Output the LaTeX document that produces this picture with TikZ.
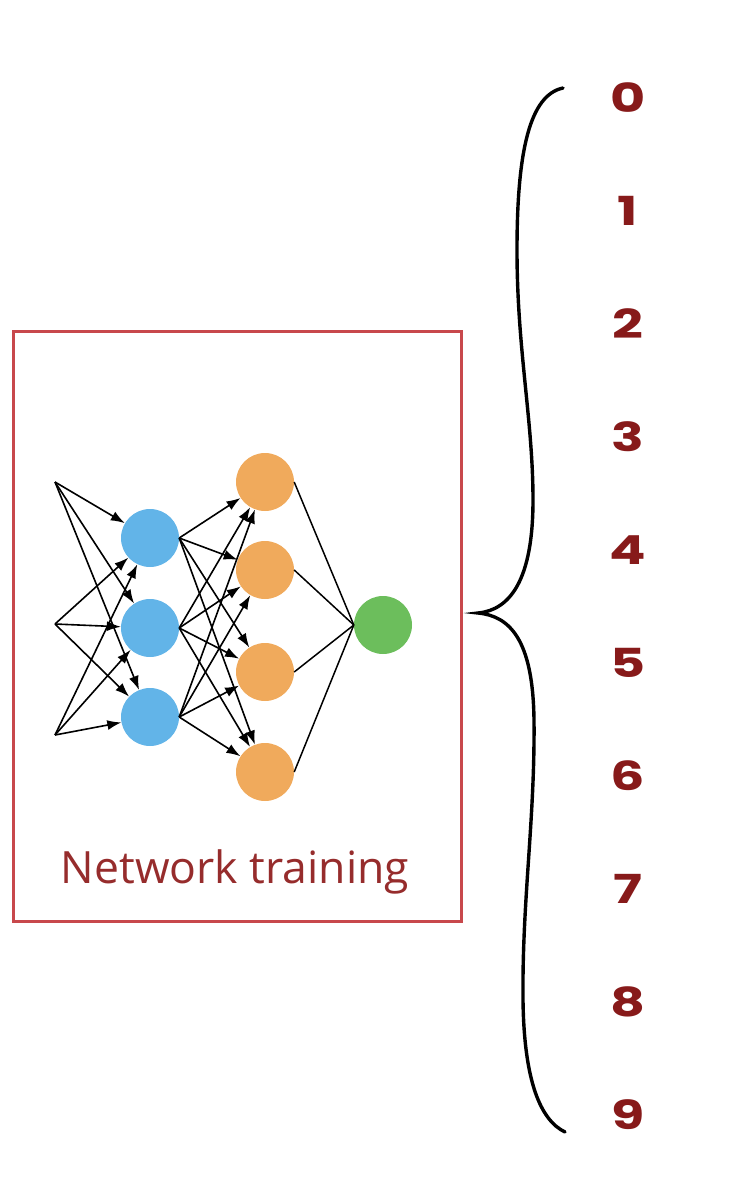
\documentclass[tikz,border=0pt]{standalone}
\usepackage{fontspec}
\setmainfont{Open Sans}
\newfontfamily\digitfont{Poppins}[UprightFont=* Bold]
\usetikzlibrary{arrows.meta}
\definecolor{boxred}{RGB}{200,72,76}
\definecolor{txtred}{RGB}{150,44,44}
\definecolor{digred}{RGB}{135,26,26}
\definecolor{nblue}{RGB}{98,180,232}
\definecolor{norange}{RGB}{240,170,92}
\definecolor{ngreen}{RGB}{108,190,92}
\tikzset{
  neuron/.style={circle,minimum size=58pt,inner sep=0pt,draw=none},
  conn/.style={line width=1.6pt,-{Latex[length=14pt,width=10pt]}},
  plain/.style={line width=1.5pt},
  digit/.style={text=digred,font=\digitfont\fontsize{40}{44}\selectfont,inner sep=0pt,xscale=1.35}
}
\begin{document}
\begin{tikzpicture}[x=1pt,y=-1pt]
\useasboundingbox (0,0) rectangle (730,1194);
% frame
\node[draw=boxred,line width=3pt,minimum width=448pt,minimum height=590pt,inner sep=0pt] (frame) at (237,626) {};
\node[anchor=base,text=txtred,font=\fontsize{44.5}{50}\selectfont,inner sep=0pt] (lbl) at (235,883) {Network training};
% inputs
\coordinate (i1) at (55,482);
\coordinate (i2) at (55,624);
\coordinate (i3) at (55,735);
% neurons
\node[neuron,fill=nblue] (b1) at (150,538) {};
\node[neuron,fill=nblue] (b2) at (150,628) {};
\node[neuron,fill=nblue] (b3) at (150,717) {};
\node[neuron,fill=norange] (o1) at (265,482) {};
\node[neuron,fill=norange] (o2) at (265,570) {};
\node[neuron,fill=norange] (o3) at (265,672) {};
\node[neuron,fill=norange] (o4) at (265,772) {};
\node[neuron,fill=ngreen] (g) at (383,625) {};
% connections
\foreach \i in {1,2,3}{
  \foreach \b in {1,2,3}{
    \draw[conn] (i\i) -- (b\b);
  }
}
\foreach \b in {1,2,3}{
  \foreach \o in {1,2,3,4}{
    \draw[conn] (b\b.east) -- (o\o);
  }
}
\foreach \o in {1,2,3,4}{
  \draw[plain] (o\o.east) -- (g.west);
}
% brace
\coordinate (btop) at (563,88);
\coordinate (btip) at (478,613);
\coordinate (bbot) at (565,1132);
\draw[line width=3.4pt,line cap=round] (btop) .. controls (530,95) and (517,150) .. (517,250)
  .. controls (517,350) and (533,420) .. (533,500)
  .. controls (533,580) and (510,610) .. (btip)
  .. controls (510,616) and (533,640) .. (534,720)
  .. controls (535,820) and (522,900) .. (523,1000)
  .. controls (524,1080) and (540,1120) .. (bbot);
% digits
\foreach \d in {0,...,9}{
  \node[digit] (d\d) at (628,{98+113*\d}) {\d};
}
\end{tikzpicture}
\end{document}
